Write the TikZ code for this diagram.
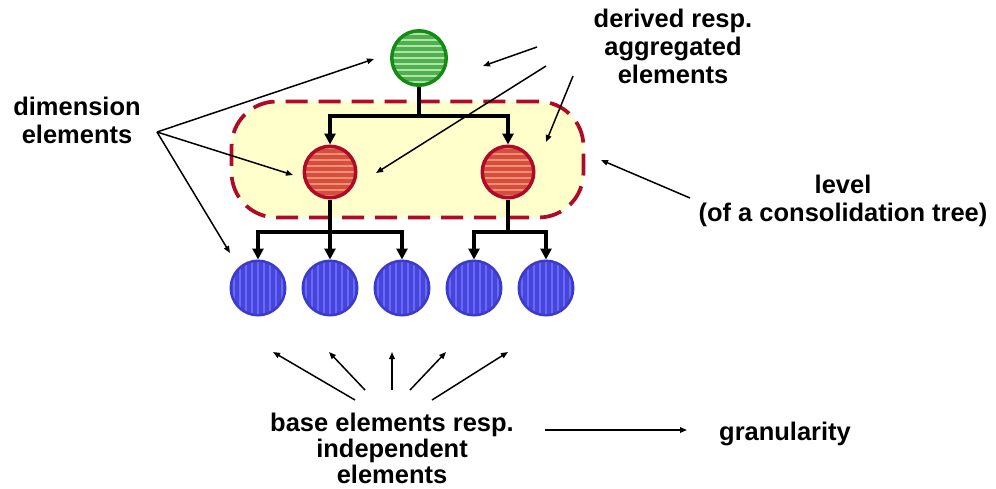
\documentclass[tikz,border=0pt]{standalone}
\usepackage{fontspec}
\setmainfont{Liberation Sans}
\usetikzlibrary{arrows.meta, calc, positioning}
\usepackage{xcolor}

\definecolor{gborder}{RGB}{20,140,20}
\definecolor{gmid}{RGB}{80,175,80}
\definecolor{glight}{RGB}{175,228,165}
\definecolor{rborder}{RGB}{175,10,40}
\definecolor{rmid}{RGB}{212,78,68}
\definecolor{rlight}{RGB}{242,145,105}
\definecolor{bborder}{RGB}{58,58,205}
\definecolor{bmid}{RGB}{70,70,222}
\definecolor{blight}{RGB}{105,105,245}
\definecolor{lvlfill}{RGB}{255,255,204}

\tikzset{
  lbl/.style={font=\bfseries\fontsize{14.5}{16}\selectfont, align=center, inner sep=0pt},
  tree/.style={line width=0.075cm, -{Triangle[length=0.22cm, width=0.22cm]}},
  bus/.style={line width=0.075cm},
  note/.style={line width=0.85pt, -{Triangle[length=0.14cm, width=0.11cm]}},
  levelbox/.style={draw=rborder, fill=lvlfill, line width=0.075cm,
    dash pattern=on 0.44cm off 0.22cm, rounded corners=0.9cm,
    minimum width=7.04cm, minimum height=2.32cm},
  greenball/.style={circle, draw=gborder, fill=gmid, line width=0.07cm,
    minimum size=1.09cm, inner sep=0pt,
    path picture={\foreach \k in {-5,...,5}
      \fill[glight] ([yshift=\k*0.12cm-0.025cm]path picture bounding box.west)
        rectangle ([yshift=\k*0.12cm+0.025cm]path picture bounding box.east);}},
  redball/.style={circle, draw=rborder, fill=rmid, line width=0.07cm,
    minimum size=1.03cm, inner sep=0pt,
    path picture={\foreach \k in {-5,...,5}
      \fill[rlight] ([yshift=\k*0.12cm-0.025cm]path picture bounding box.west)
        rectangle ([yshift=\k*0.12cm+0.025cm]path picture bounding box.east);}},
  blueball/.style={circle, draw=bborder, fill=bmid, line width=0.05cm,
    minimum size=1.09cm, inner sep=0pt,
    path picture={\foreach \k in {-5,...,5}
      \fill[blight] ([xshift=\k*0.12cm-0.02cm]path picture bounding box.south)
        rectangle ([xshift=\k*0.12cm+0.02cm]path picture bounding box.north);}}
}

\begin{document}
\begin{tikzpicture}[x=0.02cm, y=-0.02cm]
  \useasboundingbox (0,0) rectangle (996,488);

  % level of the tree
  \node[levelbox] (level) at (407.5,159.5) {};

  % elements
  \node[greenball] (top) at (419,58) {};
  \node[redball] (r1) at (330,172) {};
  \node[redball] (r2) at (508,172) {};
  \foreach \x [count=\i] in {258,330,402,474,546} {
    \node[blueball] (b\i) at (\x,288) {};
  }

  % consolidation edges
  \coordinate (topbus) at (419,116);
  \coordinate (lbus) at (330,232);
  \coordinate (rbus) at (508,232);
  \draw[bus] (top.south) -- (topbus);
  \draw[tree] (topbus) -| (r1.north);
  \draw[tree] (topbus) -| (r2.north);
  \draw[tree] (r1.south) -- (b2.north);
  \draw[tree] (lbus) -| (b1.north);
  \draw[tree] (lbus) -| (b3.north);
  \draw[bus] (r2.south) -- (rbus);
  \draw[tree] (rbus) -| (b4.north);
  \draw[tree] (rbus) -| (b5.north);

  % labels
  \node[lbl] (dim) at (77,120) {dimension\\elements};
  \node[lbl] (derived) at (673,46.5) {derived resp.\\aggregated\\elements};
  \node[lbl] (lvl) at (843,201) {level\\(of a consolidation tree)};
  \node[lbl, font=\bfseries\fontsize{14.5}{15}\selectfont] (base) at (392,448.5)
    {base elements resp.\\independent\\elements};
  \node[lbl, anchor=base] (gran) at (785,440) {granularity};

  % pointers from dimension elements
  \coordinate (dimsrc) at (157,132);
  \coordinate (dimA) at (374,59);
  \coordinate (dimB) at (293,175);
  \coordinate (dimC) at (230,253);
  \foreach \t in {dimA,dimB,dimC} {
    \draw[note] (dimsrc) -- (\t);
  }

  % pointers from derived elements
  \coordinate (derA) at (537,47);
  \coordinate (derB) at (546,66);
  \coordinate (derC) at (573,76);
  \coordinate (derAt) at (483,66);
  \coordinate (derBt) at (376,173);
  \coordinate (derCt) at (546,142);
  \draw[note] (derA) -- (derAt);
  \draw[note] (derB) -- (derBt);
  \draw[note] (derC) -- (derCt);

  % pointer to the level
  \coordinate (lvlsrc) at (690,198);
  \coordinate (lvltip) at (601,160);
  \draw[note] (lvlsrc) -- (lvltip);

  % pointers from base elements
  \foreach \sx/\sy/\tx in {355/400/273, 365/390/329, 392/390/392, 410/390/446, 432/400/508} {
    \coordinate (bs) at (\sx,\sy);
    \coordinate (bt) at (\tx,352);
    \draw[note] (bs) -- (bt);
  }

  % granularity
  \coordinate (gransrc) at (545,430);
  \coordinate (grantip) at (687,430);
  \draw[note] (gransrc) -- (grantip);
\end{tikzpicture}
\end{document}
